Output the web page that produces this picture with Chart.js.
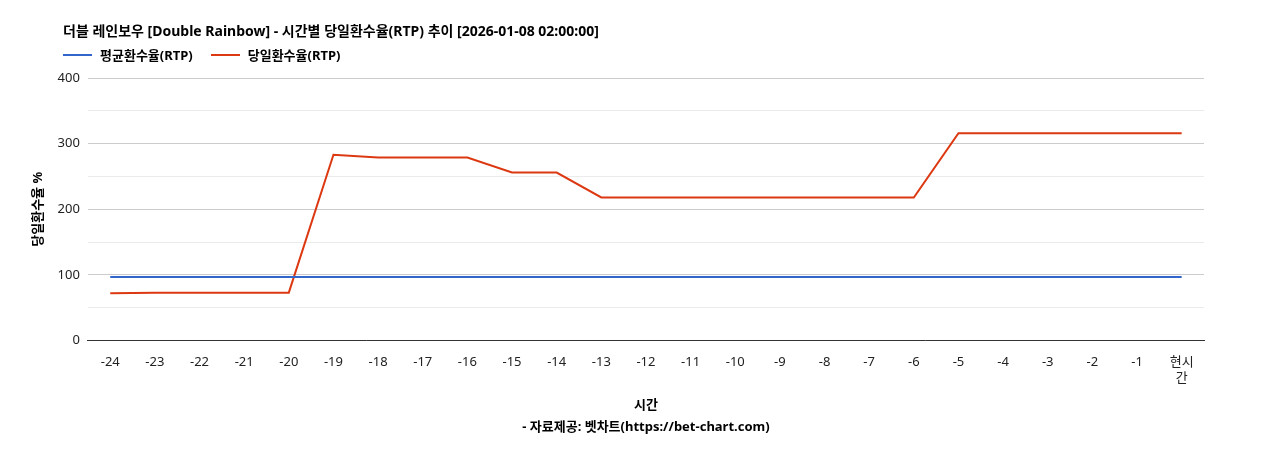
<!DOCTYPE html>
<html><head><meta charset="utf-8">
<script src="https://cdn.jsdelivr.net/npm/chart.js@4"></script>
<style>html,body{margin:0;padding:0;background:#fff;font-family:'Noto Sans','Noto Sans CJK KR',sans-serif}
#w{position:relative;width:1268px;height:450px}
#t{position:absolute;left:63px;top:20px;font-size:14px;font-weight:bold;color:#000;white-space:nowrap}
#lg{position:absolute;left:63px;top:45px;font-size:13px;font-weight:bold;color:#000;display:flex;gap:18px}
#lg span{display:flex;align-items:center}
#lg i{display:inline-block;width:29px;height:2px;margin-right:8px}
#c{position:absolute;left:0;top:0}</style>
</head><body><div id="w"><canvas id="c"></canvas>
<div id="t">더블 레인보우 [Double Rainbow] - 시간별 당일환수율(RTP) 추이 [2026-01-08 02:00:00]</div>
<div id="lg"></div></div>
<script>
const labels=['-24','-23','-22','-21','-20','-19','-18','-17','-16','-15','-14','-13','-12','-11','-10','-9','-8','-7','-6','-5','-4','-3','-2','-1',['현시','간']];
const avgRtp=[97,97,97,97,97,97,97,97,97,97,97,97,97,97,97,97,97,97,97,97,97,97,97,97,97];
const dayRtp=[72,73,73,73,73,283,279,279,279,256,256,218,218,218,218,218,218,218,218,316,316,316,316,316,316];
const F="'Noto Sans','Noto Sans CJK KR',sans-serif";
Chart.defaults.font.family=F;
const ch=new Chart(document.getElementById('c'),{type:'line',
data:{labels,datasets:[
{label:'평균환수율(RTP)',data:avgRtp,borderColor:'#3366cc',backgroundColor:'#3366cc',borderWidth:2,pointRadius:0,tension:0},
{label:'당일환수율(RTP)',data:dayRtp,borderColor:'#dc3912',backgroundColor:'#dc3912',borderWidth:2,pointRadius:0,tension:0}]},
options:{responsive:true,maintainAspectRatio:false,animation:false,
layout:{padding:{left:26,right:64,top:78,bottom:8}},
plugins:{legend:{display:false},tooltip:{enabled:false}},
scales:{x:{offset:true,grid:{display:false},border:{color:'#333'},ticks:{color:'#222',font:{size:13},maxRotation:0,autoSkip:false,padding:6},
title:{display:true,text:['시간','- 자료제공: 벳차트(https://bet-chart.com)'],color:'#000',font:{size:13,weight:'bold',lineHeight:1.7},padding:{top:2}}},
y:{min:0,max:400,ticks:{stepSize:50,color:'#222',font:{size:13},padding:8,callback:v=>v%100===0?v:''},
grid:{color:c=>c.tick&&c.tick.value%100===0?'#cccccc':'#ebebeb',drawTicks:false},border:{display:false},
title:{display:true,text:'당일환수율 %',color:'#000',font:{size:13,weight:'bold'}}}}}});
document.getElementById('lg').innerHTML=ch.data.datasets.map(d=>`<span><i style="background:${d.borderColor}"></i>${d.label}</span>`).join('');
</script></body></html>
